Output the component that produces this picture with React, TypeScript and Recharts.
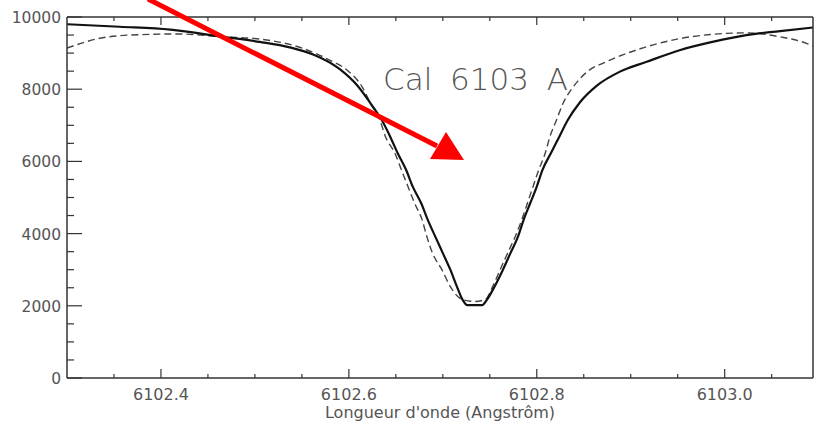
import { LineChart, Line, XAxis, YAxis } from 'recharts';

// wavelength (Angstrom) and intensity
const OBS_W = [
  6102.3, 6102.356, 6102.41, 6102.466, 6102.505, 6102.537, 6102.562, 6102.59,
  6102.609, 6102.623, 6102.635, 6102.644, 6102.652, 6102.661, 6102.668, 6102.677,
  6102.684, 6102.692, 6102.7, 6102.708, 6102.715, 6102.721, 6102.726, 6102.742,
  6102.747, 6102.755, 6102.764, 6102.772, 6102.78, 6102.786, 6102.793, 6102.8,
  6102.806, 6102.815, 6102.824, 6102.833, 6102.846, 6102.864, 6102.888, 6102.917,
  6102.952, 6102.987, 6103.023, 6103.059, 6103.094,
];
const OBS_I = [
  9800, 9730, 9650, 9450, 9310, 9160, 8960, 8560,
  8100, 7610, 7145, 6685, 6225, 5760, 5300, 4840,
  4380, 3915, 3460, 3000, 2530, 2170, 2020, 2020,
  2170, 2530, 3000, 3460, 3915, 4380, 4840, 5300,
  5760, 6225, 6685, 7145, 7640, 8100, 8480, 8760,
  9080, 9310, 9500, 9610, 9710,
];

const FIT_W = [
  6102.3, 6102.335, 6102.367, 6102.42, 6102.466, 6102.505, 6102.551, 6102.58,
  6102.598, 6102.614, 6102.623, 6102.633, 6102.639, 6102.649, 6102.656, 6102.663,
  6102.67, 6102.678, 6102.683, 6102.689, 6102.699, 6102.708, 6102.721, 6102.734,
  6102.745, 6102.753, 6102.761, 6102.769, 6102.777, 6102.784, 6102.79, 6102.796,
  6102.802, 6102.809, 6102.814, 6102.821, 6102.828, 6102.839, 6102.853, 6102.874,
  6102.91, 6102.952, 6102.987, 6103.023, 6103.059, 6103.087, 6103.094,
];
const FIT_I = [
  9140, 9410, 9500, 9530, 9450, 9390, 9130, 8800,
  8530, 8070, 7610, 7145, 6685, 6225, 5760, 5300,
  4840, 4380, 3915, 3460, 3000, 2530, 2170, 2120,
  2170, 2530, 3000, 3460, 3915, 4380, 4840, 5300,
  5760, 6225, 6685, 7145, 7610, 8070, 8470, 8760,
  9120, 9400, 9520, 9560, 9450, 9270, 9190,
];

const X_TICKS = [
  6102.35, 6102.4, 6102.45, 6102.5, 6102.55, 6102.6, 6102.65, 6102.7, 6102.75,
  6102.8, 6102.85, 6102.9, 6102.95, 6103.0, 6103.05,
];
const X_MAJOR = [6102.4, 6102.6, 6102.8, 6103.0];
const X_LABELS = ['6102.4', '6102.6', '6102.8', '6103.0'];

const Y_TICKS = [
  0, 500, 1000, 1500, 2000, 2500, 3000, 3500, 4000, 4500, 5000, 5500, 6000, 6500,
  7000, 7500, 8000, 8500, 9000, 9500, 10000,
];
const Y_MAJOR = [0, 2000, 4000, 6000, 8000, 10000];
const Y_LABELS = ['0', '2000', '4000', '6000', '8000', '10000'];

const observed = OBS_W.map((w, k) => ({ w, i: OBS_I[k] }));
const fitted = FIT_W.map((w, k) => ({ w, i: FIT_I[k] }));

const FONT = '"DejaVu Sans", sans-serif';
const AXIS = '#333';
const TXT = '#555';

function majorIndex(list: number[], v: number) {
  return list.findIndex((m) => Math.abs(m - v) < 1e-6);
}

const BottomTick = (p: any) => {
  const k = majorIndex(X_MAJOR, p.payload.value);
  const len = k >= 0 ? 9 : 4;
  return (
    <g>
      <line x1={p.x} x2={p.x} y1={p.y} y2={p.y - len} stroke={AXIS} strokeWidth={1.2} />
      {k >= 0 && (
        <text x={p.x} y={p.y + 22} textAnchor="middle" fontFamily={FONT} fontSize={16} fill={TXT}>
          {X_LABELS[k]}
        </text>
      )}
    </g>
  );
};

const TopTick = (p: any) => {
  const k = majorIndex(X_MAJOR, p.payload.value);
  const len = k >= 0 ? 8 : 4;
  return <line x1={p.x} x2={p.x} y1={p.y} y2={p.y + len} stroke={AXIS} strokeWidth={1.2} />;
};

const LeftTick = (p: any) => {
  const k = majorIndex(Y_MAJOR, p.payload.value);
  const len = k >= 0 ? 15 : 7;
  return (
    <g>
      <line x1={p.x} x2={p.x + len} y1={p.y} y2={p.y} stroke={AXIS} strokeWidth={1.2} />
      {k >= 0 && (
        <text x={p.x - 6} y={p.y + 6} textAnchor="end" fontFamily={FONT} fontSize={15.5} fill={TXT}>
          {Y_LABELS[k]}
        </text>
      )}
    </g>
  );
};

const RightTick = (p: any) => {
  const k = majorIndex(Y_MAJOR, p.payload.value);
  const len = k >= 0 ? 11 : 4;
  return <line x1={p.x} x2={p.x - len} y1={p.y} y2={p.y} stroke={AXIS} strokeWidth={1.2} />;
};

export default function App() {
  return (
    <div style={{ position: 'absolute', left: 0, top: 0, width: 814, height: 423, background: '#fff' }}>
      <LineChart width={814} height={423} margin={{ top: 0, right: 0, bottom: 0, left: 0 }}>
        <XAxis
          xAxisId="b"
          type="number"
          dataKey="w"
          domain={[6102.3, 6103.094]}
          allowDataOverflow
          ticks={X_TICKS}
          interval={0}
          height={45}
          tickSize={0}
          tickMargin={0}
          tickLine={false}
          axisLine={{ stroke: AXIS, strokeWidth: 1.5 }}
          tick={(p: any) => <BottomTick {...p} />}
          label={{
            value: "Longueur d'onde (Angstrôm)",
            position: 'insideBottom',
            offset: 5,
            fontFamily: FONT,
            fontSize: 16,
            fill: TXT,
          }}
        />
        <XAxis
          xAxisId="t"
          orientation="top"
          type="number"
          dataKey="w"
          domain={[6102.3, 6103.094]}
          allowDataOverflow
          ticks={X_TICKS}
          interval={0}
          height={17}
          tickSize={0}
          tickMargin={0}
          tickLine={false}
          axisLine={{ stroke: AXIS, strokeWidth: 1.5 }}
          tick={(p: any) => <TopTick {...p} />}
        />
        <YAxis
          yAxisId="l"
          type="number"
          domain={[0, 10000]}
          ticks={Y_TICKS}
          interval={0}
          width={67}
          tickSize={0}
          tickMargin={0}
          tickLine={false}
          axisLine={{ stroke: AXIS, strokeWidth: 1.5 }}
          tick={(p: any) => <LeftTick {...p} />}
        />
        <YAxis
          yAxisId="r"
          orientation="right"
          type="number"
          domain={[0, 10000]}
          ticks={Y_TICKS}
          interval={0}
          width={1}
          tickSize={0}
          tickMargin={0}
          tickLine={false}
          axisLine={{ stroke: AXIS, strokeWidth: 1.5 }}
          tick={(p: any) => <RightTick {...p} />}
        />
        <Line
          xAxisId="b"
          yAxisId="l"
          data={fitted}
          dataKey="i"
          type="monotone"
          stroke="#444"
          strokeWidth={1.4}
          strokeDasharray="7 4"
          dot={false}
          isAnimationActive={false}
        />
        <Line
          xAxisId="b"
          yAxisId="l"
          data={observed}
          dataKey="i"
          type="monotone"
          stroke="#111"
          strokeWidth={2.2}
          dot={false}
          isAnimationActive={false}
        />
      </LineChart>
      <svg
        width={814}
        height={423}
        style={{ position: 'absolute', left: 0, top: 0, pointerEvents: 'none' }}
      >
        <text
          x={383}
          y={90}
          fontFamily={FONT}
          fontSize={31}
          fontWeight={200}
          fill="#555"
          wordSpacing={8}
        >
          Cal 6103 A
        </text>
        <line x1={148} y1={-1} x2={437} y2={146} stroke="#f00" strokeWidth={5} />
        <polygon points="464,160 430,159 446,132" fill="#f00" />
      </svg>
    </div>
  );
}
